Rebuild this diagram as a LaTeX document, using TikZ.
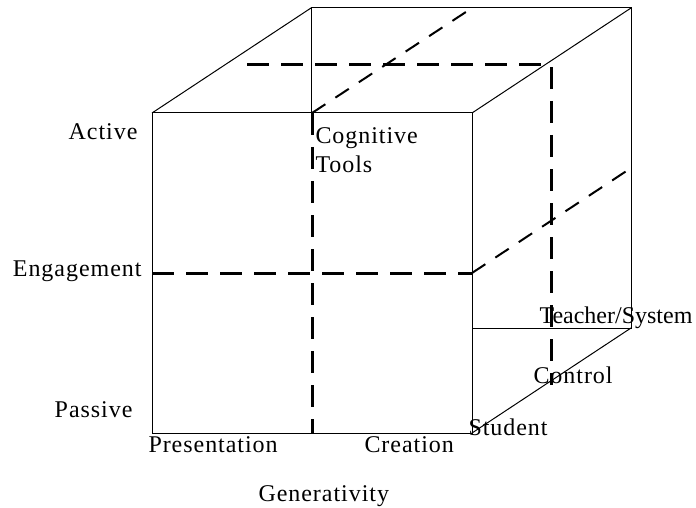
\documentclass[tikz,border=0pt]{standalone}
\usepackage{fontspec}
\setmainfont{Liberation Serif}[LetterSpace=4]
\usepackage{tikz}

\begin{document}
\begin{tikzpicture}[x=1pt,y=-1pt,line width=1pt,
  lbl/.style={inner sep=0pt,font=\fontsize{24}{28}\selectfont},
  bigdash/.style={line width=3pt,dash pattern=on 22pt off 12pt},
  finedash/.style={line width=2pt,dash pattern=on 16pt off 12pt}]
 \useasboundingbox (0,0) rectangle (696,508);
 % back box
 \draw (311,113) -- (311,8) -- (631,8) -- (631,328) -- (472,328);
 \draw (152,113) -- (311,8);
 \draw (472,113) -- (631,8);
 \draw (472,433) -- (631,328);
 % front face
 \draw (152,113) rectangle (472,433);
 % splits
 \draw[bigdash] (152,273) -- (472,273);
 \draw[bigdash] (312,113) -- (312,433);
 \draw[bigdash] (247,65) -- (551,65) -- (551,385);
 \draw[finedash] (312,113) -- (472,8);
 \draw[finedash] (472,273) -- (631,168);
 % labels
 \node[lbl,anchor=base east] (active) at (138,140) {Active};
 \node[lbl,anchor=base east] (engage) at (142,276) {Engagement};
 \node[lbl,anchor=base east] (passive) at (133,417) {Passive};
 \node[lbl,anchor=base west] (present) at (148,452) {Presentation};
 \node[lbl,anchor=base west] (create) at (364,452) {Creation};
 \node[lbl,anchor=base west] (gener) at (258,501) {Generativity};
 \node[lbl,anchor=base west] (cogn) at (315,143) {Cognitive};
 \node[lbl,anchor=base west] (tools) at (315,172) {Tools};
 \node[lbl,anchor=base west] (teach) at (539,323) {\addfontfeature{LetterSpace=0}Teacher/System};
 \node[lbl,anchor=base west] (control) at (533,383) {Control};
 \node[lbl,anchor=base west] (student) at (468,435) {Student};
\end{tikzpicture}
\end{document}
